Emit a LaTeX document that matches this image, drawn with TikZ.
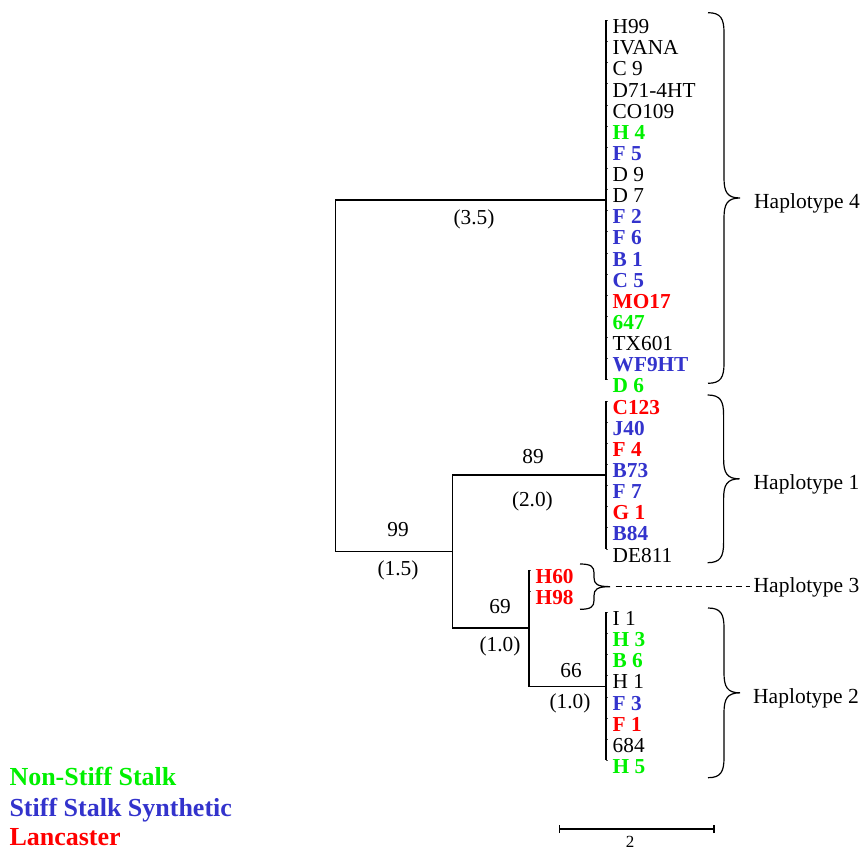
\documentclass[tikz,border=0pt]{standalone}
\usepackage{fontspec}
\setmainfont{Liberation Serif}
\definecolor{nssgreen}{RGB}{0,240,0}
\definecolor{sssblue}{RGB}{51,51,204}
\definecolor{lanred}{RGB}{255,0,0}
\newcommand\hapbrace[6]{%
  \pgfmathsetmacro\hbmid{(#2+#3)/2}%
  \draw[bracepath] (#1,#2) .. controls ({#1+0.8*#5},#2) and ({#1+#5},{#2+0.3*#4}) .. ({#1+#5},{#2+#4})
    -- ({#1+#5},{\hbmid-#4}) .. controls ({#1+#5},{\hbmid-0.3*#4}) and ({#1+#5+0.2*(#6-#5)},\hbmid) .. ({#1+#6},\hbmid)
    .. controls ({#1+#5+0.2*(#6-#5)},\hbmid) and ({#1+#5},{\hbmid+0.3*#4}) .. ({#1+#5},{\hbmid+#4})
    -- ({#1+#5},{#3-#4}) .. controls ({#1+#5},{#3-0.3*#4}) and ({#1+0.8*#5},#3) .. (#1,#3);}
\begin{document}
\begin{tikzpicture}[x=1pt,y=-1pt,
  branch/.style={line width=1.4pt},
  bracepath/.style={line width=1.2pt},
  leafbase/.style={anchor=base west, inner sep=0pt, font=\fontsize{21.3}{24}\selectfont},
  plainleaf/.style={leafbase, text=black},
  nss/.style={leafbase, text=nssgreen, font=\fontsize{21.3}{24}\selectfont\bfseries},
  sss/.style={leafbase, text=sssblue, font=\fontsize{21.3}{24}\selectfont\bfseries},
  lan/.style={leafbase, text=lanred, font=\fontsize{21.3}{24}\selectfont\bfseries},
  lbl/.style={anchor=base, inner sep=0pt, font=\fontsize{21.3}{24}\selectfont},
  hlab/.style={anchor=base west, inner sep=0pt, font=\fontsize{21.5}{24}\selectfont},
  legendtext/.style={anchor=base west, inner sep=0pt, font=\fontsize{26}{30}\selectfont\bfseries}]
\useasboundingbox (0,0) rectangle (864,850);

% leaves
\foreach \i/\t/\s/\lx in {0/H99/plainleaf/606, 1/IVANA/plainleaf/606, 2/C 9/plainleaf/606,
  3/D71-4HT/plainleaf/606, 4/CO109/plainleaf/606, 5/H 4/nss/606, 6/F 5/sss/606,
  7/D 9/plainleaf/606, 8/D 7/plainleaf/606, 9/F 2/sss/606, 10/F 6/sss/606, 11/B 1/sss/606,
  12/C 5/sss/606, 13/MO17/lan/606, 14/647/nss/606, 15/TX601/plainleaf/606, 16/WF9HT/sss/606,
  17/D 6/nss/606, 18/C123/lan/606, 19/J40/sss/606, 20/F 4/lan/606, 21/B73/sss/606,
  22/F 7/sss/606, 23/G 1/lan/606, 24/B84/sss/606, 25/DE811/plainleaf/606,
  26/H60/lan/529, 27/H98/lan/529, 28/I 1/plainleaf/606, 29/H 3/nss/606, 30/B 6/nss/606,
  31/H 1/plainleaf/606, 32/F 3/sss/606, 33/F 1/lan/606, 34/684/plainleaf/606, 35/H 5/nss/606}
{
  \coordinate (k\i) at (\lx, {20.3+21.14*\i});
  \draw[line width=0.5pt, black!70] (k\i) -- ++(2,0);
  \node[\s] (L\i) at ({\lx+6.5}, {20.3+21.14*\i+13.3}) {\t};
}

% tree
\coordinate (n4) at (606,200);
\coordinate (n89) at (606,474.8);
\coordinate (n66) at (606,686.2);
\coordinate (n69) at (529,628.1);
\coordinate (n99) at (452.7,551.5);
\coordinate (root) at (335.5,551.5);
\draw[branch] (k0) -- (k17);
\draw[branch] (k18) -- (k25);
\draw[branch] (k28) -- (k35);
\draw[branch] (k26) -- (k26 |- n66) -- (n66);
\draw[branch] (n4) -| (root) -- (n99);
\draw[branch] (n89) -| (n99) |- (n69);

% branch labels
\node[lbl] (l35) at (474,225) {(3.5)};
\node[lbl] (s99) at (398,536) {99};
\node[lbl] (l15) at (398,575) {(1.5)};
\node[lbl] (s89) at (533,463.3) {89};
\node[lbl] (l20) at (532.4,506) {(2.0)};
\node[lbl] (s69) at (500,613.3) {69};
\node[lbl] (l10a) at (500,651.7) {(1.0)};
\node[lbl] (s66) at (571,677.3) {66};
\node[lbl] (l10b) at (570,708.3) {(1.0)};

% braces and haplotype labels
\hapbrace{708}{12.7}{383.3}{20}{16}{32}
\hapbrace{707.6}{395}{562.7}{20}{16}{32}
\hapbrace{708}{608}{777.7}{20}{16}{32}
\hapbrace{580}{564}{609.3}{9}{14}{30}
\node[hlab] (h4) at (754,208.3) {Haplotype 4};
\node[hlab] (h1) at (753.5,489) {Haplotype 1};
\node[hlab] (h3) at (753.5,592.5) {Haplotype 3};
\node[hlab] (h2) at (753,703.3) {Haplotype 2};
\coordinate (b3tip) at (615.7,586.7);
\draw[line width=1pt, dash pattern=on 6.5pt off 3.5pt] (b3tip) -- ([xshift=-3.5pt]b3tip -| h3.west);

% scale bar
\coordinate (sb1) at (559.3,829);
\coordinate (sb2) at (714,829);
\draw[line width=1.2pt] (sb1) -- (sb2);
\draw[line width=1.2pt] ([yshift=-4pt]sb1) -- ([yshift=4pt]sb1);
\draw[line width=1.2pt] ([yshift=-4pt]sb2) -- ([yshift=4pt]sb2);
\node[anchor=base, inner sep=0pt, font=\fontsize{17}{20}\selectfont] (sblab) at (630,847.5) {2};

% legend
\node[legendtext, text=nssgreen] (g1) at (9.3,785.5) {Non-Stiff Stalk};
\node[legendtext, text=sssblue] (g2) at (9.3,816) {Stiff Stalk Synthetic};
\node[legendtext, text=lanred] (g3) at (9.3,845) {Lancaster};
\end{tikzpicture}
\end{document}
